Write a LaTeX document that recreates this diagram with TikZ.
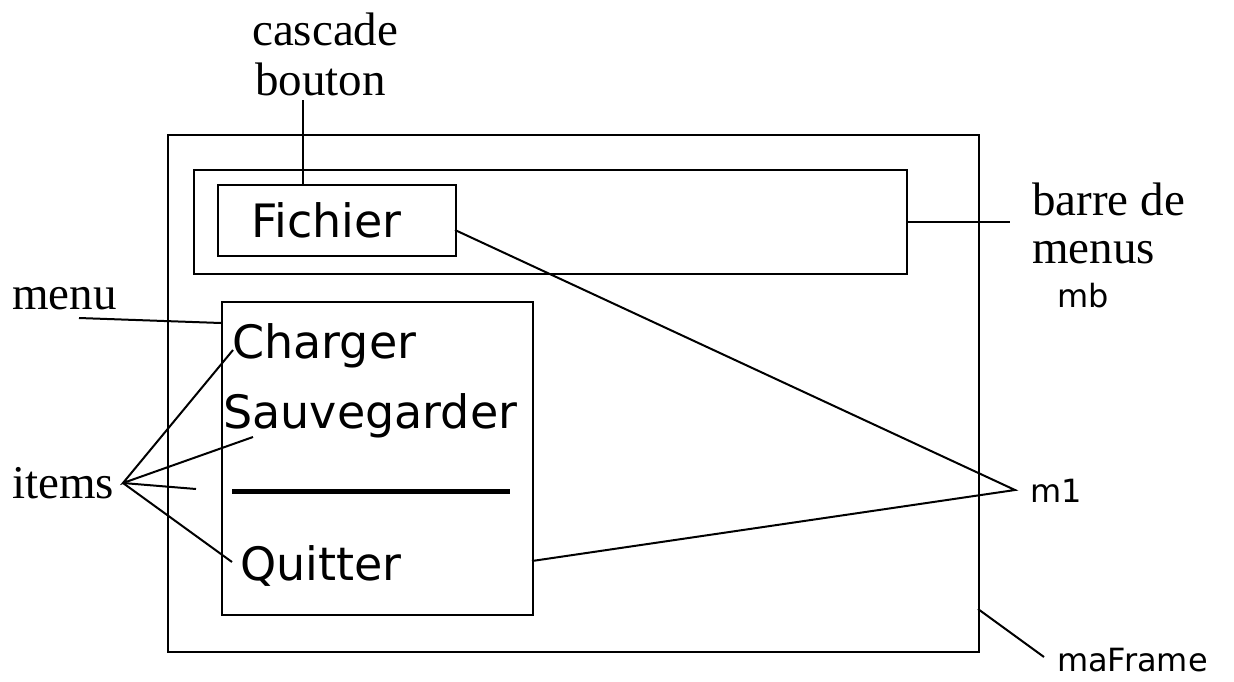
\documentclass[tikz,border=0pt]{standalone}
\usepackage{fontspec}
\setmainfont{Liberation Serif}
\setsansfont{DejaVu Sans}
\begin{document}
\begin{tikzpicture}[x=1pt,y=-1pt,
  box/.style={draw, line width=2pt, inner sep=0pt, anchor=north west},
  serif/.style={font=\fontsize{47}{50}\selectfont, inner sep=0pt, anchor=base west},
  big/.style={font=\sffamily\fontsize{46}{50}\selectfont, inner sep=0pt, anchor=base west},
  small/.style={font=\sffamily\fontsize{32}{36}\selectfont, inner sep=0pt, anchor=base west},
  conn/.style={line width=2pt}]
\useasboundingbox (0,0) rectangle (1234,681);
% boxes
\node[box, minimum width=811pt, minimum height=517pt] (frame) at (167,134) {};
\node[box, minimum width=713pt, minimum height=104pt] (mb) at (193,169) {};
\node[box, minimum width=238pt, minimum height=71pt] (fbox) at (217,184) {};
\node[box, minimum width=311pt, minimum height=313pt] (menu) at (221,301) {};
% texts inside
\node[big] (fichier) at (251,237) {Fichier};
\node[big] (charger) at (232,358) {Charger};
\node[big] (sauve) at (223,428) {Sauvegarder};
\node[big] (quitter) at (240,580) {Quitter};
\coordinate (sepL) at (232,491);
\coordinate (sepR) at (510,491);
\draw[line width=5pt] (sepL) -- (sepR);
% labels
\node[serif] (cascade) at (252,45) {cascade};
\node[serif] (bouton) at (255,95) {bouton};
\node[serif] (barre) at (1032,215) {barre de};
\node[serif] (menus) at (1032,263) {menus};
\node[small] (mblbl) at (1057,307) {mb};
\node[serif] (menulbl) at (12,309) {menu};
\node[serif] (items) at (12,498) {items};
\node[small] (m1) at (1030,502) {m1};
\node[small] (maframe) at (1057,671) {maFrame};
% connector points
\coordinate (cb) at (303,100);
\coordinate (barreend) at (1010,222);
\coordinate (menustart) at (79,318);
\coordinate (menuend) at (221,323);
\coordinate (itp) at (123,483);
\coordinate (it1) at (233,350);
\coordinate (it2) at (253,437);
\coordinate (it3) at (196,489);
\coordinate (it4) at (232,562);
\coordinate (m1p) at (1015,490);
\coordinate (fright) at (455,230);
\coordinate (mright) at (532,561);
\coordinate (frright) at (978,609);
\coordinate (maend) at (1044,657);
% connectors
\draw[conn] (cb) -- (cb |- fbox.north);
\draw[conn] (mb.east |- barreend) -- (barreend);
\draw[conn] (menustart) -- (menuend);
\draw[conn] (it1) -- (itp) -- (it2);
\draw[conn] (itp) -- (it3);
\draw[conn] (itp) -- (it4);
\draw[conn] (fright) -- (m1p) -- (mright);
\draw[conn] (frright) -- (maend);
\end{tikzpicture}
\end{document}
